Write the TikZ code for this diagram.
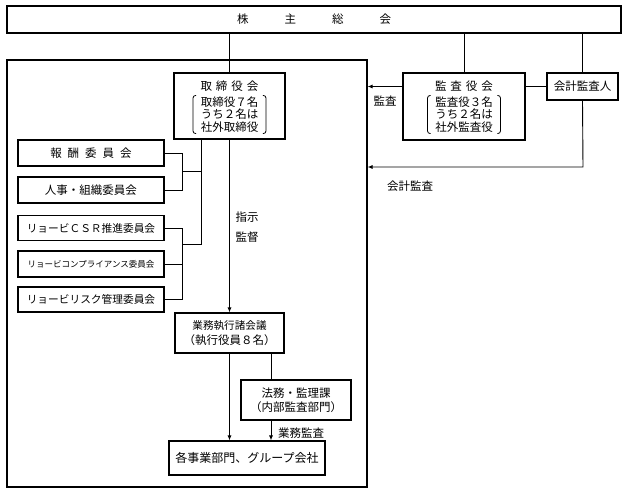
\documentclass[tikz,border=0pt]{standalone}
\usepackage{fontspec}
\setmainfont{Noto Sans CJK JP}
\usetikzlibrary{arrows.meta}
\tikzset{
  wire/.style={line width=0.9pt},
  arr/.style={wire,-{Latex[length=5pt,width=4pt]}},
  orgbox/.style={draw,line width=1.1pt,inner sep=0pt,align=center,
    font=\fontsize{11.5}{13}\selectfont},
  cmte/.style={orgbox,minimum width=146,minimum height=25},
  lbl/.style={inner sep=0pt,font=\fontsize{11.5}{13}\selectfont},
  note/.style={lbl,align=center,inner xsep=7.5pt,inner ysep=1pt,
    font=\fontsize{11.5}{12.5}\selectfont},
  kakko/.style={line width=0.8pt,rounded corners=2.5pt}
}
\begin{document}
\begin{tikzpicture}[x=1pt,y=-1pt]
\useasboundingbox (0,0) rectangle (627,493);
% top level
\node[orgbox,minimum width=614,minimum height=27] (soukai) at (314,19.5)
  {株\hspace{36pt}主\hspace{36pt}総\hspace{36pt}会};
\node[draw,line width=1.1pt,inner sep=0pt,minimum width=360,minimum height=427]
  (inner) at (187,273.5) {};
\node[orgbox,minimum width=111,minimum height=66] (torishimari) at (229.5,106) {};
\node[lbl] (torishimariTitle) at (229.5,86.5) {取\hspace{4pt}締\hspace{4pt}役\hspace{4pt}会};
\node[note] (torishimariNote) at (229.5,114.5) {取締役７名\\うち２名は\\社外取締役};
\node[orgbox,minimum width=122,minimum height=67] (kansayaku) at (464,106.5) {};
\node[lbl] (kansayakuTitle) at (464,86.5) {監\hspace{4pt}査\hspace{4pt}役\hspace{4pt}会};
\node[note] (kansayakuNote) at (464,114.5) {監査役３名\\うち２名は\\社外監査役};
\node[orgbox,minimum width=71,minimum height=27] (kaikei) at (582.5,86.5) {会計監査人};
% committees
\node[cmte,minimum height=26] (houshu) at (91,153)
  {報\hspace{6pt}酬\hspace{6pt}委\hspace{6pt}員\hspace{6pt}会};
\node[cmte,minimum height=26] (jinji) at (91,190) {人事・組織委員会};
\node[cmte,font=\fontsize{10.7}{12}\selectfont] (csr) at (91,228) {リョービＣＳＲ推進委員会};
\node[cmte,minimum height=26,font=\fontsize{8.5}{10}\selectfont] (compliance) at (91,264)
  {リョービコンプライアンス委員会};
\node[cmte,font=\fontsize{10.7}{12}\selectfont] (risk) at (91,299.5) {リョービリスク管理委員会};
% execution
\node[orgbox,minimum width=109,minimum height=40,font=\fontsize{11.5}{14.5}\selectfont]
  (gyomu) at (229.5,333) {{\fontsize{10.6}{14.5}\selectfont 業務執行諸会議}\\（執行役員８名）};
\node[orgbox,minimum width=110,minimum height=40,font=\fontsize{11.5}{14.5}\selectfont]
  (houmu) at (296,400) {法務・監理課\\（内部監査部門）};
\node[orgbox,minimum width=156,minimum height=34,font=\fontsize{12}{14}\selectfont]
  (kakujigyo) at (247,458) {各事業部門、グループ会社};
% labels
\node[lbl] (lkansa) at (385,101) {監査};
\node[lbl] (lkaikei) at (410,186) {会計監査};
\node[lbl] (lshiji) at (247,217) {指示};
\node[lbl] (lkantoku) at (247,237) {監督};
\node[lbl] (lgyomukansa) at (301,433) {業務監査};
% brackets
\draw[kakko] ([xshift=3pt]torishimariNote.north west) -- (torishimariNote.north west)
  -- (torishimariNote.south west) -- ([xshift=3pt]torishimariNote.south west);
\draw[kakko] ([xshift=-3pt]torishimariNote.north east) -- (torishimariNote.north east)
  -- (torishimariNote.south east) -- ([xshift=-3pt]torishimariNote.south east);
\draw[kakko] ([xshift=3pt]kansayakuNote.north west) -- (kansayakuNote.north west)
  -- (kansayakuNote.south west) -- ([xshift=3pt]kansayakuNote.south west);
\draw[kakko] ([xshift=-3pt]kansayakuNote.north east) -- (kansayakuNote.north east)
  -- (kansayakuNote.south east) -- ([xshift=-3pt]kansayakuNote.south east);
% join points
\coordinate (tieA) at (182,171);
\coordinate (dropA) at (201,171);
\coordinate (tieB) at (182,244);
\coordinate (dropB) at (201,244);
\coordinate (kaikeiturn) at (583,167);
\coordinate (houmux) at (271,0);
% connectors
\draw[wire] (soukai.south -| torishimari.north) -- (torishimari.north);
\draw[wire] (soukai.south -| kansayaku.north) -- (kansayaku.north);
\draw[wire] (soukai.south -| kaikei.north) -- (kaikei.north);
\draw[wire] (kaikei.west) -- (kaikei.west -| kansayaku.east);
\draw[arr] (kaikei.west -| kansayaku.west) -- (kaikei.west -| inner.east);
\draw[arr] (kaikei.south) -- (kaikeiturn) -- (kaikeiturn -| inner.east);
\draw[arr] (torishimari.south) -- (gyomu.north);
\draw[wire] (torishimari.south -| dropB) -- (dropB) -- (tieB);
\draw[wire] (dropA) -- (tieA);
\draw[wire] (houshu.east) -- (houshu.east -| tieA) |- (jinji.east);
\draw[wire] (csr.east) -- (csr.east -| tieB) |- (risk.east);
\draw[wire] (compliance.east) -- (compliance.east -| tieB);
\draw[arr] (gyomu.south) -- (gyomu.south |- kakujigyo.north);
\draw[wire] (gyomu.south -| houmux) -- (houmu.north -| houmux);
\draw[arr] (houmu.south -| houmux) -- (kakujigyo.north -| houmux);
\end{tikzpicture}
\end{document}
